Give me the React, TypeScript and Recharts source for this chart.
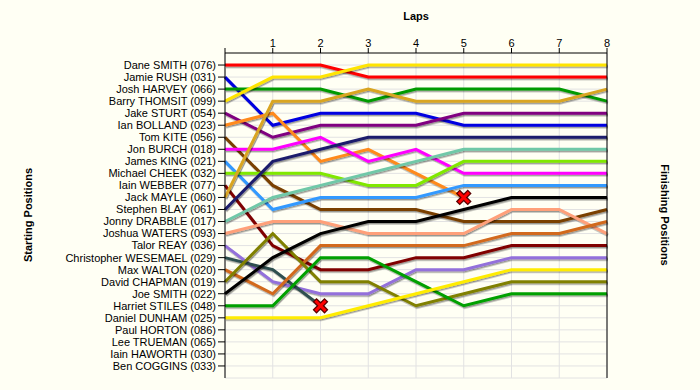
import { CartesianGrid, Line, LineChart, XAxis, YAxis } from "recharts"

const laps = [0, 1, 2, 3, 4, 5, 6, 7, 8]

const drivers = [
  "Dane SMITH (076)",
  "Jamie RUSH (031)",
  "Josh HARVEY (066)",
  "Barry THOMSIT (099)",
  "Jake STURT (054)",
  "Ian BOLLAND (023)",
  "Tom KITE (056)",
  "Jon BURCH (018)",
  "James KING (021)",
  "Michael CHEEK (032)",
  "Iain WEBBER (077)",
  "Jack MAYLE (060)",
  "Stephen BLAY (061)",
  "Jonny DRABBLE (017)",
  "Joshua WATERS (093)",
  "Talor REAY (036)",
  "Christopher WESEMAEL (029)",
  "Max WALTON (020)",
  "David CHAPMAN (019)",
  "Joe SMITH (022)",
  "Harriet STILES (048)",
  "Daniel DUNHAM (025)",
  "Paul HORTON (086)",
  "Lee TRUEMAN (065)",
  "Iain HAWORTH (030)",
  "Ben COGGINS (033)",
]

const finishLabels = [
  "1st", "2nd", "3rd", "4th", "5th", "6th", "7th", "8th", "9th", "10th",
  "11th", "12th", "13th", "14th", "15th", "16th", "17th", "18th", "19th", "20th",
  "21st", "22nd", "23rd", "24th", "25th", "26th",
]

// position of each driver after each lap (index = lap), in starting order
const lapPositions: number[][] = [
  [1, 1, 1, 2, 2, 2, 2, 2, 2],
  [2, 6, 5, 5, 5, 6, 6, 6, 6],
  [3, 3, 3, 4, 3, 3, 3, 3, 4],
  [4, 2, 2, 1, 1, 1, 1, 1, 1],
  [5, 7, 6, 6, 6, 5, 5, 5, 5],
  [6, 5, 9, 8, 10, 12],
  [7, 11, 13, 13, 13, 14, 14, 14, 13],
  [8, 8, 7, 9, 8, 10, 10, 10, 10],
  [9, 13, 12, 12, 12, 11, 11, 11, 11],
  [10, 10, 10, 11, 11, 9, 9, 9, 9],
  [11, 16, 18, 18, 17, 17, 16, 16, 16],
  [12, 4, 4, 3, 4, 4, 4, 4, 3],
  [13, 9, 8, 7, 7, 7, 7, 7, 7],
  [14, 12, 11, 10, 9, 8, 8, 8, 8],
  [15, 14, 14, 15, 15, 15, 13, 13, 15],
  [16, 19, 20, 20, 18, 18, 17, 17, 17],
  [17, 18, 21],
  [18, 20, 16, 16, 16, 16, 15, 15, 14],
  [19, 15, 19, 19, 21, 20, 19, 19, 19],
  [20, 17, 15, 14, 14, 13, 12, 12, 12],
  [21, 21, 17, 17, 19, 21, 20, 20, 20],
  [22, 22, 22, 21, 20, 19, 18, 18, 18],
]

const retiredDrivers = ["Ian BOLLAND (023)", "Christopher WESEMAEL (029)"]

const colors = [
  "#ff0000", "#0000e0", "#009a00", "#ffe400", "#800080", "#ff8a1c",
  "#7a4000", "#ff00ff", "#3399ff", "#80e800", "#800000", "#d9a520",
  "#1c1c6c", "#70c8a8", "#ffa07a", "#9370db", "#2f4f4f", "#d2691e",
  "#808000", "#000000", "#00a000", "#ffec00",
]

const positionTicks = drivers.map((_, i) => i + 1)

const chartData = laps.map((lap) => {
  const row: Record<string, number | null> = { lap }
  lapPositions.forEach((p, i) => {
    row["d" + i] = p[lap] ?? null
  })
  return row
})

const font = "'Liberation Sans', Arial, sans-serif"
const bg = "#fffff4"

function RetiredMark(props: any) {
  const { cx, cy } = props
  return (
    <g transform={`translate(${cx},${cy})`}>
      <path d="M-4,-4L4,4M-4,4L4,-4" stroke="#5a0000" strokeWidth={5.5} strokeLinecap="square" />
      <path d="M-4,-4L4,4M-4,4L4,-4" stroke="#ff0000" strokeWidth={3} strokeLinecap="square" />
    </g>
  )
}

export default function App() {
  return (
    <div style={{ position: "absolute", left: 0, top: 0, width: 700, height: 390, background: bg, fontFamily: font }}>
      <svg width={0} height={0} style={{ position: "absolute" }}>
        <defs>
          <filter id="lineShadow" filterUnits="userSpaceOnUse" x={0} y={0} width={700} height={390}>
            <feDropShadow dx={1} dy={1.5} stdDeviation={0.6} floodColor="#000" floodOpacity={0.4} />
          </filter>
        </defs>
      </svg>
      <LineChart
        width={700}
        height={390}
        data={chartData}
        margin={{ top: 0, right: 0, left: 0, bottom: 12 }}
        style={{ fontFamily: font }}
      >
        <CartesianGrid
          yAxisId="left"
          stroke="#e2e2e2"
          horizontalValues={[...positionTicks, 27]}
          verticalValues={laps}
        />
        <XAxis
          dataKey="lap"
          type="number"
          orientation="top"
          domain={[0, 8]}
          ticks={laps}
          tickFormatter={(v) => (v === 0 ? "" : String(v))}
          height={53}
          tickSize={5}
          tickMargin={1}
          axisLine={{ stroke: "#000" }}
          tickLine={{ stroke: "#000" }}
          tick={{ fill: "#000", fontSize: 11 }}
        />
        <YAxis
          yAxisId="left"
          type="number"
          domain={[0, 27]}
          reversed
          ticks={positionTicks}
          interval={0}
          tickFormatter={(v) => drivers[v - 1] ?? ""}
          width={225}
          tickSize={7}
          tickMargin={2}
          axisLine={{ stroke: "#000" }}
          tickLine={{ stroke: "#000" }}
          tick={{ fill: "#000", fontSize: 11 }}
        />
        <YAxis
          yAxisId="right"
          orientation="right"
          type="number"
          domain={[0, 27]}
          reversed
          ticks={positionTicks}
          interval={0}
          tickFormatter={(v) => finishLabels[v - 1] ?? ""}
          width={93}
          tickSize={7}
          tickMargin={2}
          axisLine={{ stroke: "#000" }}
          tickLine={{ stroke: "#000" }}
          tick={{ fill: "#000", fontSize: 11 }}
        />
        {lapPositions.map((p, i) => {
          const retired = retiredDrivers.includes(drivers[i])
          const last = p.length - 1
          return (
            <Line
              key={drivers[i]}
              yAxisId="left"
              type="linear"
              dataKey={"d" + i}
              name={drivers[i]}
              stroke={colors[i]}
              strokeWidth={3}
              filter="url(#lineShadow)"
              connectNulls={false}
              activeDot={false}
              isAnimationActive={false}
              dot={(props: any) =>
                retired && props.index === last ? (
                  <RetiredMark key={`x-${i}`} {...props} />
                ) : (
                  <g key={`n-${i}-${props.index}`} />
                )
              }
            />
          )
        })}
      </LineChart>
      <div style={{ position: "absolute", left: 366, top: 10, width: 100, textAlign: "center", fontSize: 11, fontWeight: "bold" }}>
        Laps
      </div>
      <div
        style={{
          position: "absolute",
          left: 28,
          top: 215,
          transform: "translate(-50%, -50%) rotate(-90deg)",
          whiteSpace: "nowrap",
          fontSize: 11,
          fontWeight: "bold",
        }}
      >
        Starting Positions
      </div>
      <div
        style={{
          position: "absolute",
          left: 665,
          top: 215,
          transform: "translate(-50%, -50%) rotate(90deg)",
          whiteSpace: "nowrap",
          fontSize: 11,
          fontWeight: "bold",
        }}
      >
        Finishing Positions
      </div>
    </div>
  )
}
